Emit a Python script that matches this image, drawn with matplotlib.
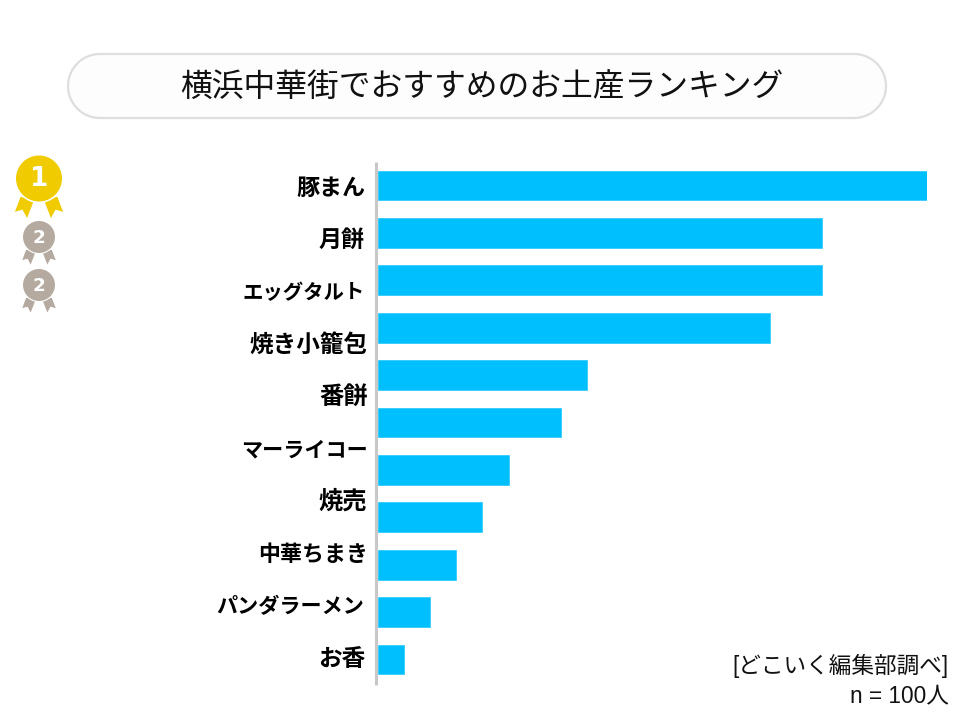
import matplotlib
matplotlib.use('Agg')
import matplotlib.pyplot as plt
import numpy as np
from matplotlib.patches import Circle, Polygon

plt.rcParams['font.family'] = ['Noto Sans CJK JP', 'DejaVu Sans']

# Data (11 bars, but only 10 labels in the source)
title = '横浜中華街でおすすめのお土産ランキング'
labels = ['豚まん', '月餅', 'エッグタルト', '焼き小籠包', '番餅', 'マーライコー',
          '焼売', '中華ちまき', 'パンダラーメン', 'お香']
counts = [21, 17, 17, 15, 8, 7, 5, 4, 3, 2, 1]
source = '[どこいく編集部調べ]'
sample = 'n = 100人'

W, H = 960, 720
fig = plt.figure(figsize=(W / 100, H / 100), dpi=100, facecolor='white')

# Overlay in pixel coordinates for the decoration and text
bg = fig.add_axes([0, 0, 1, 1])
bg.set_xlim(0, W)
bg.set_ylim(H, 0)
bg.axis('off')

# Bars: x 378-927 px is 0-21 people, rows 47.4 px apart starting at 185.5 px
top, bottom = 162, 685
row = 47.4
ax = fig.add_axes([378 / W, 1 - bottom / H, 548.5 / W, (bottom - top) / H])
ax.patch.set_alpha(0)
ax.set_xlim(0, 21)
ax.set_ylim((bottom - 185.5) / row, (top - 185.5) / row)
ypos = np.arange(len(counts))
bars = ax.barh(ypos, counts, height=0.63, color='#00BFFF', edgecolor='#22C8FF',
               linewidth=0.5)
for b in bars:
    b.set_joinstyle('round')
for s in ['top', 'right', 'bottom', 'left']:
    ax.spines[s].set_visible(False)
ax.set_xticks([])
ax.set_yticks([])

# Axis line sits just left of the bars
bg.plot([375.5, 375.5], [top, bottom], color='#C8C8C8', linewidth=2.2,
        solid_capstyle='butt')

# Title pill, full half circles on both ends
x0, x1, y0, y1 = 68, 886, 54, 118
r = (y1 - y0) / 2
t = np.linspace(-np.pi / 2, np.pi / 2, 60)
px = np.r_[x1 - r + r * np.cos(t), x0 + r - r * np.cos(t)]
py = np.r_[y0 + r + r * np.sin(t), y0 + r - r * np.sin(t)]
bg.add_patch(Polygon(np.c_[px, py], closed=True, facecolor='#FDFDFD', edgecolor='#DEDEDE',
                     linewidth=1.6))
bg.text(482, 87, title, ha='center', va='center', fontsize=22.9, color='#111111')

# Category labels are spaced evenly and do not line up with the bars
label_y = np.linspace(188, 659, len(labels))
label_x = [365, 365, 365, 368, 368, 368, 367, 368, 364, 365]
label_size = [16.6, 16.6, 14.7, 17, 17.5, 15.2, 17.5, 15.8, 15.2, 17]
for name, x, y, fs in zip(labels, label_x, label_y, label_size):
    bg.text(x, y, name, ha='right', va='center', fontsize=fs, fontweight='bold',
            color='black')


def medal(cx, cy, r, color, num):
    # ribbons first, then the disc on top
    for side in (-1, 1):
        pts = [(cx + side * 0.20 * r, cy + 0.90 * r),
               (cx + side * 0.80 * r, cy + 0.80 * r),
               (cx + side * 1.05 * r, cy + 1.45 * r),
               (cx + side * 0.72 * r, cy + 1.35 * r),
               (cx + side * 0.52 * r, cy + 1.72 * r)]
        bg.add_patch(Polygon(pts, closed=True, facecolor=color, edgecolor='none'))
    bg.add_patch(Circle((cx, cy), r * 1.07, facecolor='white', edgecolor='none'))
    bg.add_patch(Circle((cx, cy), r, facecolor=color, edgecolor='none'))
    bg.text(cx, cy + 1, num, ha='center', va='center', color='white', fontweight='bold',
            fontsize=r * 0.82, family='DejaVu Sans')


medal(39, 178.5, 23, '#EFCB00', '1')
medal(39, 237, 16, '#B5AAA0', '2')
medal(39, 285, 16, '#B5AAA0', '2')

# Footer notes
foot = ['Liberation Sans', 'Noto Sans CJK JP']
bg.text(949, 666, source, ha='right', va='center', fontsize=16.3, color='#111111',
        family=foot)
bg.text(949, 696, sample, ha='right', va='center', fontsize=16.3, color='#111111',
        family=foot)

fig.savefig('out.png', dpi=100)
